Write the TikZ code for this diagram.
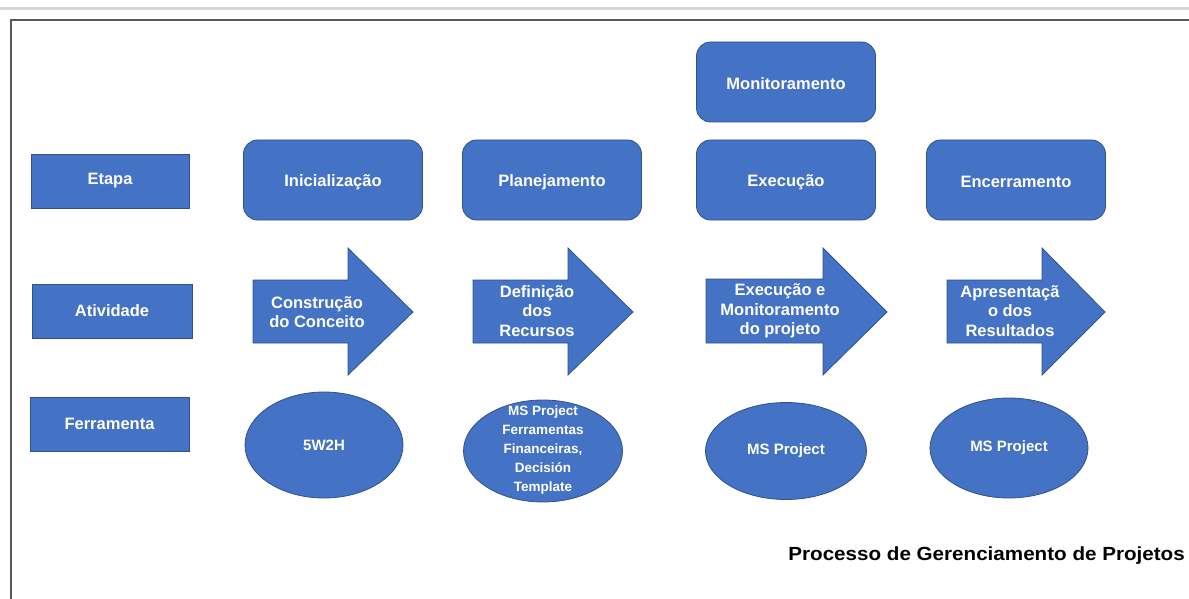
\documentclass[tikz,border=0pt]{standalone}
\usepackage{fontspec}
\setmainfont{Liberation Sans}
\usetikzlibrary{shapes.geometric}
\definecolor{boxblue}{HTML}{4472C4}
\definecolor{boxedge}{HTML}{2F528F}
\definecolor{framegray}{HTML}{595959}
\definecolor{rulegray}{HTML}{D6D6D6}
\begin{document}
\begin{tikzpicture}[x=1pt,y=-1pt,
  lbl/.style={font=\bfseries\fontsize{16.5}{19.5}\selectfont, text=white, align=center, inner sep=0pt},
  smalllbl/.style={font=\bfseries\fontsize{15}{17}\selectfont, text=white, align=center, inner sep=0pt},
  tinylbl/.style={font=\bfseries\fontsize{13.5}{18.8}\selectfont, text=white, align=center, inner sep=0pt},
  headbox/.style={draw=boxedge, line width=0.8pt, fill=boxblue, rectangle, minimum width=158pt, minimum height=54pt, inner sep=0pt},
  stagebox/.style={draw=boxedge, line width=0.8pt, fill=boxblue, rectangle, rounded corners=14pt, minimum width=179pt, minimum height=80pt, inner sep=0pt},
  toolshape/.style={draw=boxedge, line width=0.8pt, fill=boxblue, ellipse, inner sep=0pt},
  arrowshape/.style={draw=boxedge, line width=0.8pt, fill=boxblue, line join=miter}
]
\useasboundingbox (0,0) rectangle (1189,599);

% page rule and frame
\draw[rulegray, line width=3pt] (0,8.5) -- (1189,8.5);
\draw[framegray, line width=2pt] (10.5,599) -- (10.5,20.5) -- (1189,20.5);

% row headings
\node[headbox, lbl] (etapa) at (110,181) {Etapa};
\node[headbox, lbl, minimum width=160pt] (atividade) at (112,311) {Atividade};
\node[headbox, lbl, minimum width=159pt] (ferramenta) at (109.5,424) {Ferramenta};

% stages (text set slightly below the box centre)
\node[stagebox] (ini) at (333,180) {};
\node[lbl] (initxt) at (333,182) {Inicialização};
\node[stagebox] (plan) at (552,180) {};
\node[lbl] (plantxt) at (552,182) {Planejamento};
\node[stagebox] (exec) at (786,180) {};
\node[lbl] (exectxt) at (786,182) {Execução};
\node[stagebox] (mon) at (786,82) {};
\node[lbl] (montxt) at (786,83.5) {Monitoramento};
\node[stagebox] (enc) at (1016,180) {};
\node[lbl] (enctxt) at (1016,181.5) {Encerramento};

% activity arrows
\draw[arrowshape] (253,280) -- (348,280) -- (348,248) -- (413,312) -- (348,375) -- (348,343) -- (253,343) -- cycle;
\node[lbl] (act1) at (317,312) {Construção\\do Conceito};
\draw[arrowshape] (473,280) -- (568,280) -- (568,248) -- (633,312) -- (568,375) -- (568,343) -- (473,343) -- cycle;
\node[lbl] (act2) at (537,311) {Definição\\dos\\Recursos};
\draw[arrowshape] (706,279) -- (823,279) -- (823,248) -- (887,312) -- (823,375) -- (823,343) -- (706,343) -- cycle;
\node[lbl] (act3) at (780,311) {Execução e\\Monitoramento\\do projeto};
\draw[arrowshape] (947,280) -- (1042,280) -- (1042,248) -- (1105,312) -- (1042,375) -- (1042,343) -- (947,343) -- cycle;
\node[lbl] (act4) at (1010,311) {Apresentaçã\\o dos\\Resultados};

% tools
\node[toolshape, minimum width=158pt, minimum height=106pt] (t1) at (324,445) {};
\node[smalllbl] (t1txt) at (t1) {5W2H};
\node[toolshape, minimum width=159pt, minimum height=102pt] (t2) at (543,451) {};
\node[tinylbl] (t2txt) at (543,450) {MS Project\\Ferramentas\\Financeiras,\\Decisión\\Template};
\node[toolshape, minimum width=161pt, minimum height=97pt] (t3) at (786,451) {};
\node[smalllbl] (t3txt) at (t3) {MS Project};
\node[toolshape, minimum width=158pt, minimum height=100pt] (t4) at (1009,448) {};
\node[smalllbl] (t4txt) at (t4) {MS Project};

% caption
\node[font=\bfseries\fontsize{19}{22}\selectfont, anchor=east, inner sep=0pt] (caption) at (1185,556) {\scalebox{1.085}[1]{Processo de Gerenciamento de Projetos}};
\end{tikzpicture}
\end{document}
